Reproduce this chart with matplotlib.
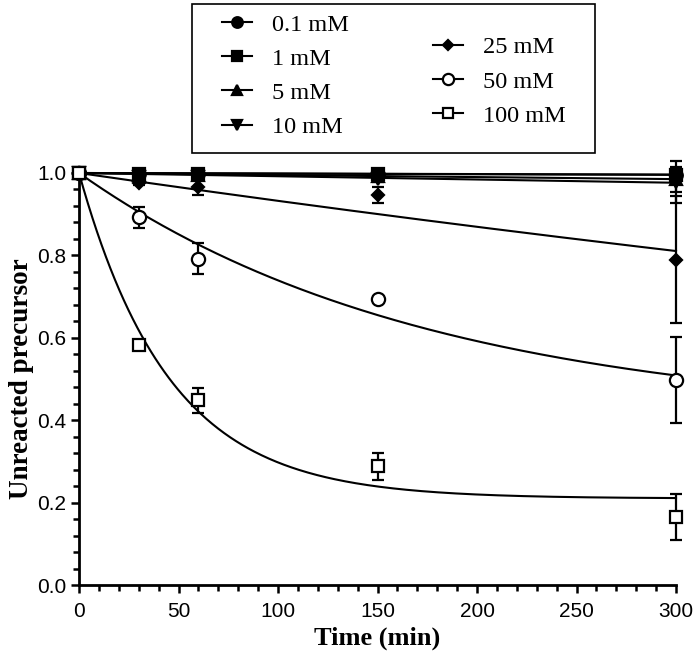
import numpy as np
import matplotlib
matplotlib.use("Agg")
import matplotlib.pyplot as plt
from matplotlib.patches import Rectangle
from matplotlib.ticker import MultipleLocator

# Dados (tempo em min, fração não reagida)
tempo = [0, 30, 60, 150, 300]
labels = ["0.1 mM", "1 mM", "5 mM", "10 mM", "25 mM", "50 mM", "100 mM"]

y_01 = [1.0, 0.998, 0.997, 0.996, 0.995]
y_1 = [1.0, 0.998, 0.997, 0.997, 0.996]
y_5 = [1.0, 0.995, 0.994, 0.993, 0.985]
y_10 = [1.0, 0.990, 0.990, 0.985, 0.978]
y_25 = [1.0, 0.975, 0.965, 0.947, 0.790]
y_50 = [1.0, 0.892, 0.792, 0.694, 0.498]
y_100 = [1.0, 0.583, 0.448, 0.288, 0.165]

e_01 = [0, 0.002, 0.002, 0.002, 0.004]
e_1 = [0, 0.002, 0.002, 0.002, 0.004]
e_5 = [0, 0.003, 0.003, 0.004, 0.03]
e_10 = [0, 0.005, 0.005, 0.008, 0.05]
e_25 = [0, 0.005, 0.018, 0.02, 0.155]
e_50 = [0, 0.026, 0.038, 0.005, 0.105]
e_100 = [0, 0.008, 0.03, 0.032, 0.055]

# Ajuste exponencial: y = platô + (1 - platô) * exp(-k t)
plato = [0.0, 0.0, 0.0, 0.0, 0.0, 0.40, 0.21]
k_fit = [1.5e-5, 1.3e-5, 5e-5, 8e-5, 7e-4, 0.0057, 0.022]

dados = [y_01, y_1, y_5, y_10, y_25, y_50, y_100]
erros = [e_01, e_1, e_5, e_10, e_25, e_50, e_100]
marcadores = [("o", "black", 9), ("s", "black", 9), ("^", "black", 9),
              ("v", "black", 9), ("D", "black", 6), ("o", "white", 9.5),
              ("s", "white", 9)]

plt.rcParams["font.family"] = "Liberation Sans"

fig = plt.figure(figsize=(6.98, 6.60), dpi=100)
ax = fig.add_axes([0.1132, 0.1136, 0.8553, 0.6243])

t_fit = np.linspace(0, 300, 400)
handles = []
for i in range(len(dados)):
    curva = plato[i] + (1 - plato[i]) * np.exp(-k_fit[i] * t_fit)
    ax.plot(t_fit, curva, color="black", lw=1.5, clip_on=False, zorder=2)
    m, fc, ms = marcadores[i]
    h = ax.errorbar(tempo, dados[i], yerr=erros[i], fmt=m, color="black",
                    mfc=fc, mec="black", mew=1.6, ms=ms, ecolor="black",
                    elinewidth=1.6, capsize=4.5, capthick=1.6, clip_on=False,
                    zorder=3)
    for art in h.lines[1] + h.lines[2]:
        art.set_clip_on(False)
    handles.append(plt.Line2D([], [], color="black", lw=1.5, marker=m,
                              mfc=fc, mec="black", mew=1.6, ms=ms * 0.85))

ax.set_xlim(0, 300)
ax.set_ylim(0, 1.0)
ax.xaxis.set_major_locator(MultipleLocator(50))
ax.xaxis.set_minor_locator(MultipleLocator(10))
ax.yaxis.set_major_locator(MultipleLocator(0.2))
ax.yaxis.set_minor_locator(MultipleLocator(0.04))
ax.yaxis.set_major_formatter(matplotlib.ticker.FormatStrFormatter("%.1f"))

for s in ["top", "right"]:
    ax.spines[s].set_visible(False)
for s in ["left", "bottom"]:
    ax.spines[s].set_linewidth(2)

ax.tick_params(which="major", length=6, width=1.8, labelsize=15)
ax.tick_params(which="minor", length=4, width=1.8)
ax.tick_params(axis="x", which="major", pad=6)
ax.tick_params(axis="y", which="major", pad=3)

ax.set_xlabel("Time (min)", family="Liberation Serif", fontweight="bold",
              fontsize=19, labelpad=4)
ax.set_ylabel("Unreacted precursor", family="Liberation Serif",
              fontweight="bold", fontsize=19.5, labelpad=2)

# Legenda em duas colunas dentro de uma caixa
fonte_leg = {"family": "Liberation Serif", "size": 17.5}
leg1 = fig.legend(handles[:4], labels[:4], loc="center left",
                  bbox_to_anchor=(0.318, 0.885), frameon=False, prop=fonte_leg,
                  borderpad=0, borderaxespad=0, handlelength=1.25,
                  handletextpad=0.8, labelspacing=0.5)
leg2 = fig.legend(handles[4:], labels[4:], loc="center left",
                  bbox_to_anchor=(0.620, 0.8765), frameon=False, prop=fonte_leg,
                  borderpad=0, borderaxespad=0, handlelength=1.25,
                  handletextpad=0.8, labelspacing=0.5)
fig.patches.append(Rectangle((0.275, 0.768), 0.577, 0.2258, fill=False,
                             ec="black", lw=1.2, transform=fig.transFigure))

fig.savefig("out.png", dpi=100)
